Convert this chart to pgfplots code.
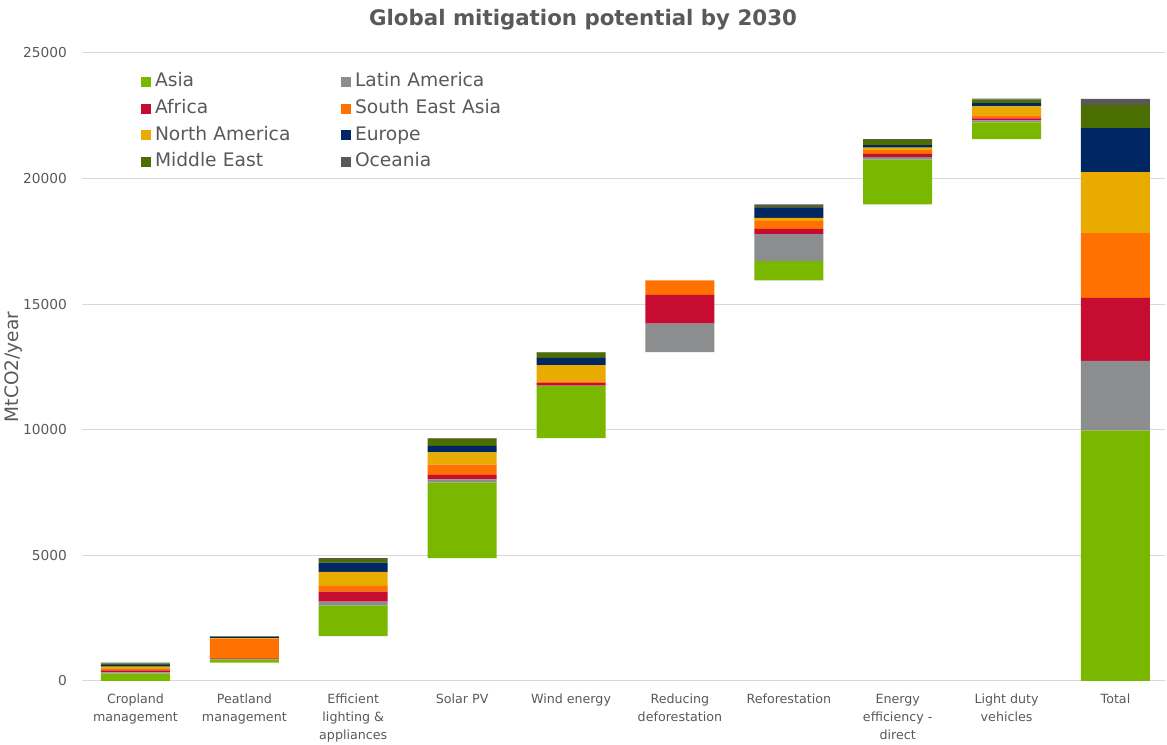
\documentclass[border=0pt]{standalone}
\usepackage{fontspec}
\setmainfont{DejaVu Sans}
\usepackage{pgfplots}
\pgfplotsset{compat=1.18}
\usepackage{pgfplotstable}
\definecolor{asia}{HTML}{7AB800}
\definecolor{latam}{HTML}{8C8D8E}
\definecolor{africa}{HTML}{C60C30}
\definecolor{seasia}{HTML}{FF7100}
\definecolor{nam}{HTML}{EAAB00}
\definecolor{europe}{HTML}{002664}
\definecolor{mideast}{HTML}{4A6F00}
\definecolor{oceania}{HTML}{595959}
\definecolor{txtgray}{HTML}{595959}
\definecolor{gridgray}{HTML}{D9D9D9}
\pgfplotsset{sqlegend/.style={legend image code/.code={\fill[##1,draw=none] (0pt,-3.75pt) rectangle (7.5pt,3.75pt);}}}
\pgfplotstableread{
x base asia latam africa seasia nam europe mideast oceania
0 0     290  50   80   50   105  65   50  40
1 730   130  0    40   790  20   40   20  20
2 1790  1210 160  400  225  555  370  145 40
3 4895  3000 135  175  410  490  250  290 20
4 9665  2070 20   105  65   650  290  210 20
5 13095 0    1130 1150 575  0    0    0   0
6 15950 760  1075 210  320  120  400  40  100
7 18975 1780 95   135  145  105  95   200 40
8 21570 665  80   80   120  355  135  135 40
9 0     9965 2775 2510 2575 2430 1750 930 240
}\datatable
\begin{document}
\begin{tikzpicture}
\path[use as bounding box] (-61.5pt,-48pt) rectangle (813.75pt,510.75pt);
\begin{axis}[
  at={(0,0)}, anchor=south west,
  scale only axis, width=812.25pt, height=471pt,
  xmin=-0.491, xmax=9.455, ymin=0, ymax=25000,
  ybar stacked, bar width=51.75pt,
  axis line style={draw=none}, tick style={draw=none},
  ymajorgrids, grid style={draw=gridgray, line width=0.75pt},
  ytick={0,5000,10000,15000,20000,25000},
  scaled y ticks=false,
  /pgf/number format/assume math mode=true,
  yticklabel style={/pgf/number format/1000 sep={}, font=\fontsize{10.3}{12}\selectfont, text=txtgray, anchor=east, xshift=-7.8pt},
  xtick={0,1,2,3,4,5,6,7,8,9},
  xticklabels={Cropland\\management, Peatland\\management, Efficient\\lighting \&\\appliances, Solar PV, Wind energy, Reducing\\deforestation, Reforestation, Energy\\efficiency -\\direct, Light duty\\vehicles, Total},
  xticklabel style={align=center, anchor=north, font=\fontsize{9.5}{13.5}\selectfont, text=txtgray, yshift=-6.5pt},
  ylabel={MtCO2/year},
  ylabel style={at={(axis description cs:0,0.5)}, anchor=center, yshift=51pt, font=\fontsize{13.9}{16}\selectfont, text=txtgray},
  title={Global mitigation potential by 2030},
  title style={at={(axis description cs:0.4626,1)}, anchor=center, yshift=18.75pt, font=\bfseries\fontsize{16}{19}\selectfont, text=txtgray},
  legend columns=2,
  legend style={at={(rel axis cs:0.0545,0.9705)}, anchor=north west, draw=none, fill=none, inner sep=0pt, outer sep=0pt,
    font=\fontsize{14}{16}\selectfont, text=txtgray, cells={anchor=west},
    nodes={inner sep=1pt, text width=120pt, text height=10.5pt, text depth=3pt},
    row sep=4.5pt,
    /tikz/every odd column/.append style={column sep=2pt},
    /tikz/every even column/.append style={column sep=18.5pt}},
]
\addplot[draw=none, fill=none, forget plot] table[x=x, y=base] {\datatable};
\addplot[draw=none, fill=asia, sqlegend] table[x=x, y=asia] {\datatable};
\addlegendentry{Asia}
\addplot[draw=none, fill=latam, sqlegend] table[x=x, y=latam] {\datatable};
\addlegendentry{Latin America}
\addplot[draw=none, fill=africa, sqlegend] table[x=x, y=africa] {\datatable};
\addlegendentry{Africa}
\addplot[draw=none, fill=seasia, sqlegend] table[x=x, y=seasia] {\datatable};
\addlegendentry{South East Asia}
\addplot[draw=none, fill=nam, sqlegend] table[x=x, y=nam] {\datatable};
\addlegendentry{North America}
\addplot[draw=none, fill=europe, sqlegend] table[x=x, y=europe] {\datatable};
\addlegendentry{Europe}
\addplot[draw=none, fill=mideast, sqlegend] table[x=x, y=mideast] {\datatable};
\addlegendentry{Middle East}
\addplot[draw=none, fill=oceania, sqlegend] table[x=x, y=oceania] {\datatable};
\addlegendentry{Oceania}
\end{axis}
\end{tikzpicture}
\end{document}
